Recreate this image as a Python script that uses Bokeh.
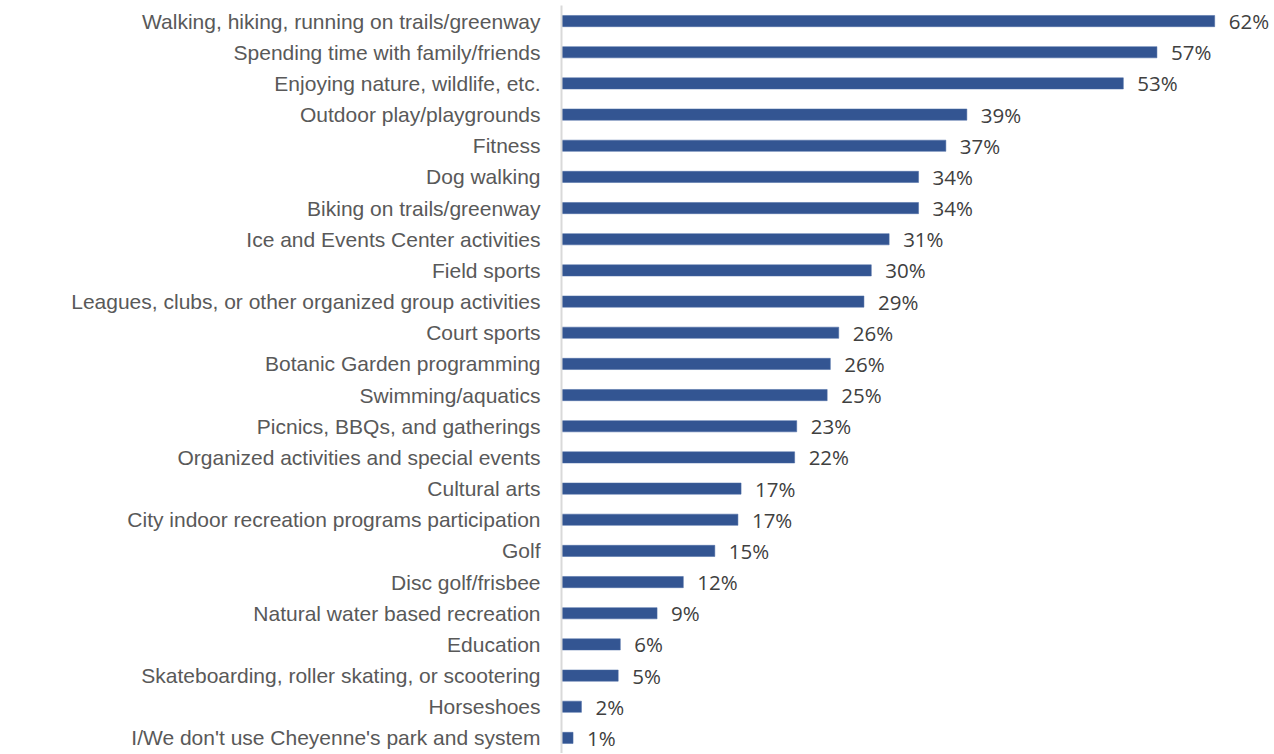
from bokeh.plotting import figure
from bokeh.models import ColumnDataSource, Range1d, FactorRange
from bokeh.core.properties import value
from bokeh.embed import file_html
from bokeh.resources import INLINE

categories = [
    "Walking, hiking, running on trails/greenway",
    "Spending time with family/friends",
    "Enjoying nature, wildlife, etc.",
    "Outdoor play/playgrounds",
    "Fitness",
    "Dog walking",
    "Biking on trails/greenway",
    "Ice and Events Center activities",
    "Field sports",
    "Leagues, clubs, or other organized group activities",
    "Court sports",
    "Botanic Garden programming",
    "Swimming/aquatics",
    "Picnics, BBQs, and gatherings",
    "Organized activities and special events",
    "Cultural arts",
    "City indoor recreation programs participation",
    "Golf",
    "Disc golf/frisbee",
    "Natural water based recreation",
    "Education",
    "Skateboarding, roller skating, or scootering",
    "Horseshoes",
    "I/We don't use Cheyenne's park and system",
]
values = [62.2, 56.7, 53.5, 38.6, 36.6, 34.0, 34.0, 31.2, 29.5, 28.8, 26.4, 25.6,
          25.3, 22.4, 22.2, 17.1, 16.8, 14.6, 11.6, 9.1, 5.6, 5.4, 1.9, 1.1]
labels = ["62%", "57%", "53%", "39%", "37%", "34%", "34%", "31%", "30%", "29%", "26%", "26%",
          "25%", "23%", "22%", "17%", "17%", "15%", "12%", "9%", "6%", "5%", "2%", "1%"]

src = ColumnDataSource(dict(cat=categories, val=values, lab=labels))

p = figure(
    y_range=FactorRange(*reversed(categories), range_padding=0),
    x_range=Range1d(0, 67.8),
    frame_width=712, frame_height=748,
    min_border_left=561, min_border_right=0, min_border_top=5, min_border_bottom=0,
    output_backend="svg", toolbar_location=None, x_axis_location=None,
)
p.outline_line_color = None
p.background_fill_color = "white"
p.grid.visible = False

p.hbar(y="cat", right="val", left=0, height=0.36, source=src,
       fill_color="#335592", line_color="#4A6AA5", line_width=0.5)

p.text(x="val", y="cat", text="lab", source=src, x_offset=14,
       text_baseline="middle", text_align="left",
       text_font=value("Open Sans"), text_font_size="20.5px", text_color="#404040")

ax = p.yaxis[0]
ax.axis_line_color = "#D9D9D9"
ax.axis_line_width = 2
ax.major_tick_line_color = None
ax.minor_tick_line_color = None
ax.major_tick_out = 0
ax.major_label_standoff = 21
ax.major_label_text_font = "Liberation Sans"
ax.major_label_text_font_size = "21px"
ax.major_label_text_color = "#595959"

open("out.html", "w").write(file_html(p, INLINE))
